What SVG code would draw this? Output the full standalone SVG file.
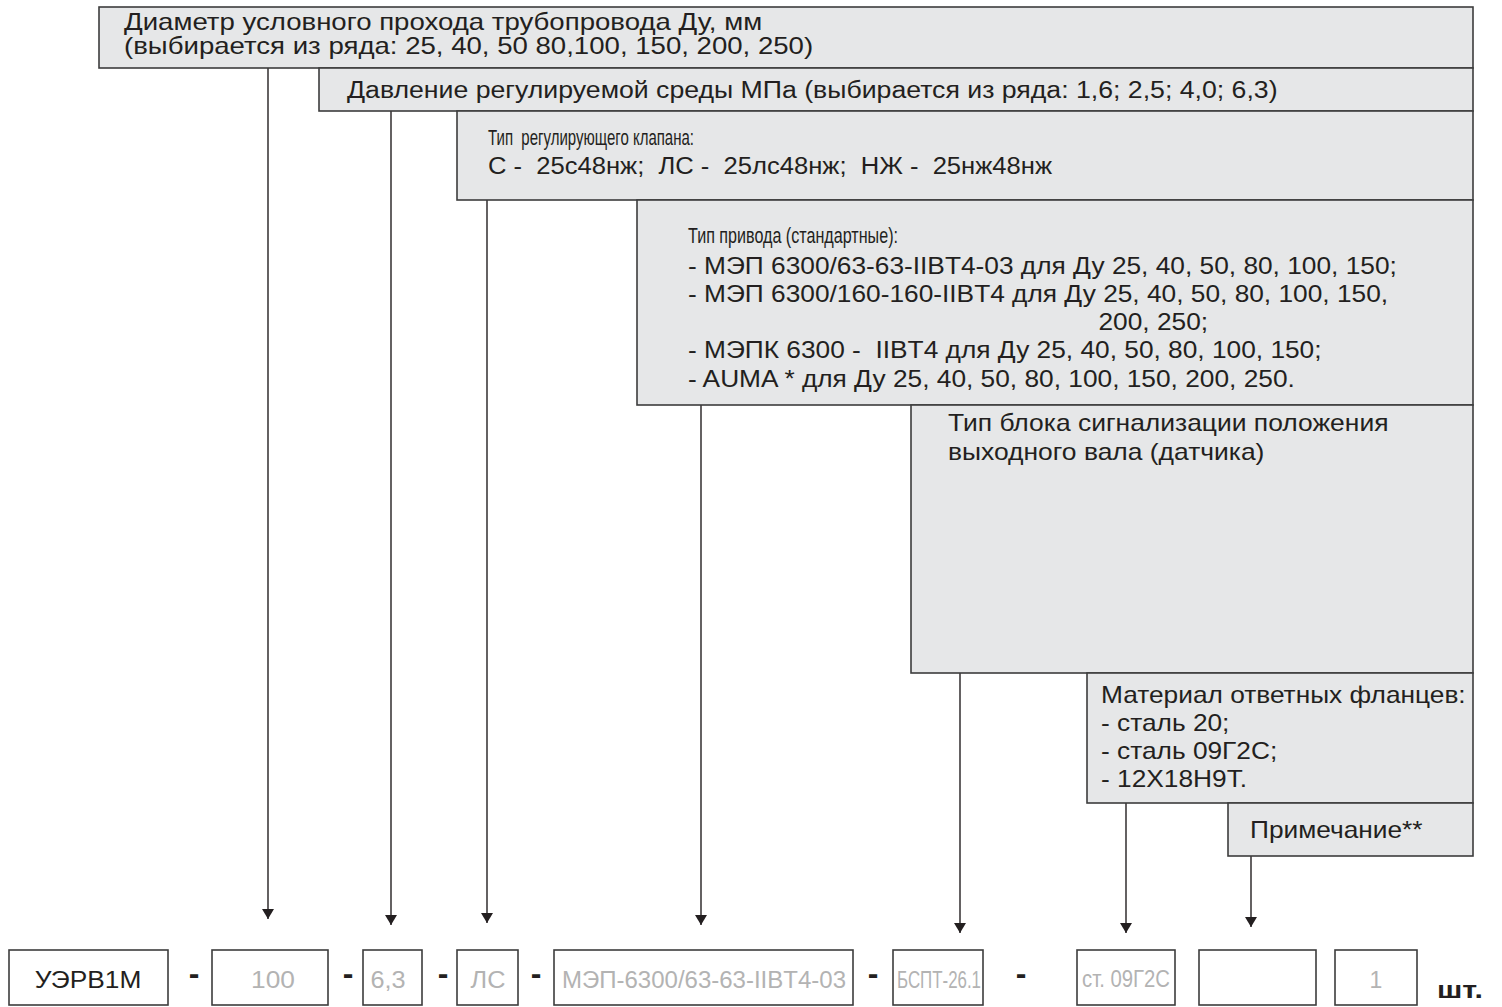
<svg xmlns="http://www.w3.org/2000/svg" width="1502" height="1007" viewBox="0 0 1502 1007">
<style>
.box{fill:#e6e7e8;stroke:#3d3d3d;stroke-width:1.6}
.wb{fill:#fff;stroke:#3d3d3d;stroke-width:1.6}
text{font-family:"Liberation Sans",Arial,Helvetica,sans-serif;font-size:23px;fill:#231f20}
.g{fill:#b3b3b3}
.c{stroke:#231f20;stroke-width:1.4;fill:none}
.d{font-size:32px;font-weight:bold}
.h{font-size:22px}
</style>
<defs>
<marker id="ad" viewBox="0 0 12 10" refX="6" refY="10" markerWidth="12" markerHeight="10" markerUnits="userSpaceOnUse">
<path d="M0,0 L12,0 L6,10 Z" fill="#231f20"/>
</marker>
</defs>
<rect width="1502" height="1007" fill="#fff"/>
<g id="connectors">
<line class="c" x1="268" y1="68" x2="268" y2="919" marker-end="url(#ad)"/>
<line class="c" x1="391" y1="111" x2="391" y2="925" marker-end="url(#ad)"/>
<line class="c" x1="487" y1="200" x2="487" y2="923" marker-end="url(#ad)"/>
<line class="c" x1="701" y1="405" x2="701" y2="925" marker-end="url(#ad)"/>
<line class="c" x1="960" y1="673" x2="960" y2="933" marker-end="url(#ad)"/>
<line class="c" x1="1126" y1="803" x2="1126" y2="933" marker-end="url(#ad)"/>
<line class="c" x1="1251" y1="856" x2="1251" y2="927" marker-end="url(#ad)"/>
</g>
<g id="n1"><rect class="box" x="99" y="7" width="1374" height="61"/>
<g transform="translate(124,0) scale(1.2,1)">
<text x="0" y="30" font-size="22">Диаметр условного прохода трубопровода Ду, мм</text>
<text x="0" y="54" font-size="22">(выбирается из ряда: 25, 40, 50 80,100, 150, 200, 250)</text></g></g>
<g id="n2"><rect class="box" x="319" y="68" width="1154" height="43"/>
<g transform="translate(347,0) scale(1.16,1)">
<text x="0" y="98">Давление регулируемой среды МПа (выбирается из ряда: 1,6; 2,5; 4,0; 6,3)</text></g></g>
<g id="n3"><rect class="box" x="457" y="111" width="1016" height="89"/>
<text class="h" x="488" y="145" textLength="206" lengthAdjust="spacingAndGlyphs" xml:space="preserve">Тип  регулирующего клапана:</text>
<text x="488" y="174" textLength="564" lengthAdjust="spacingAndGlyphs" xml:space="preserve">С -  25с48нж;  ЛС -  25лс48нж;  НЖ -  25нж48нж</text></g>
<g id="n4"><rect class="box" x="637" y="200" width="836" height="205"/>
<text class="h" x="688" y="243" textLength="210" lengthAdjust="spacingAndGlyphs">Тип привода (стандартные):</text>
<g transform="translate(688,0) scale(1.1435,1)">
<text x="0" y="274">- МЭП 6300/63-63-IIBT4-03 для Ду 25, 40, 50, 80, 100, 150;</text>
<text x="0" y="302">- МЭП 6300/160-160-IIBT4 для Ду 25, 40, 50, 80, 100, 150,</text>
<text x="359" y="330">200, 250;</text>
<text x="0" y="358" xml:space="preserve">- МЭПК 6300 -  IIBT4 для Ду 25, 40, 50, 80, 100, 150;</text>
<text x="0" y="387">- AUMA * для Ду 25, 40, 50, 80, 100, 150, 200, 250.</text></g></g>
<g id="n5"><rect class="box" x="911" y="405" width="562" height="268"/>
<g transform="translate(948,0) scale(1.15,1)">
<text x="0" y="431">Тип блока сигнализации положения</text>
<text x="0" y="460">выходного вала (датчика)</text></g></g>
<g id="n6"><rect class="box" x="1087" y="673" width="386" height="130"/>
<g transform="translate(1101,0) scale(1.1435,1)">
<text x="0" y="703">Материал ответных фланцев:</text>
<text x="0" y="731">- сталь 20;</text>
<text x="0" y="759">- сталь 09Г2С;</text>
<text x="0" y="787">- 12Х18Н9Т.</text></g></g>
<g id="n7"><rect class="box" x="1228" y="803" width="245" height="53"/>
<g transform="translate(1250,0) scale(1.1435,1)">
<text x="0" y="838">Примечание**</text></g></g>
<g id="b1"><rect class="wb" x="9" y="950" width="159" height="55"/><text x="88" y="988" text-anchor="middle" transform="translate(88,0) scale(1.1435,1) translate(-88,0)">УЭРВ1М</text></g>
<g id="b2"><rect class="wb" x="212" y="950" width="116" height="55"/><text class="g" x="273" y="988" text-anchor="middle" transform="translate(273,0) scale(1.1435,1) translate(-273,0)">100</text></g>
<g id="b3"><rect class="wb" x="363" y="950" width="59" height="55"/><text class="g" x="388" y="988" text-anchor="middle" transform="translate(388,0) scale(1.1,1) translate(-388,0)">6,3</text></g>
<g id="b4"><rect class="wb" x="457" y="950" width="61" height="55"/><text class="g" x="488" y="988" text-anchor="middle" transform="translate(488,0) scale(1.1,1) translate(-488,0)">ЛС</text></g>
<g id="b5"><rect class="wb" x="554" y="950" width="299" height="55"/><text class="g" x="562" y="988" textLength="284" lengthAdjust="spacingAndGlyphs">МЭП-6300/63-63-IIBT4-03</text></g>
<g id="b6"><rect class="wb" x="893" y="950" width="90" height="55"/><text class="g" x="897" y="988" textLength="84" lengthAdjust="spacingAndGlyphs">БСПТ-26.1</text></g>
<g id="b7"><rect class="wb" x="1077" y="950" width="98" height="55"/><text class="g" x="1082" y="987" font-size="19" textLength="88" lengthAdjust="spacingAndGlyphs">ст. 09Г2С</text></g>
<g id="b8"><rect class="wb" x="1199" y="950" width="117" height="55"/></g>
<g id="b9"><rect class="wb" x="1335" y="950" width="82" height="55"/><text class="g" x="1376" y="988" text-anchor="middle">1</text></g>
<g id="dashes">
<text class="d" x="194" y="984" text-anchor="middle">-</text>
<text class="d" x="348" y="984" text-anchor="middle">-</text>
<text class="d" x="443" y="984" text-anchor="middle">-</text>
<text class="d" x="536" y="984" text-anchor="middle">-</text>
<text class="d" x="873" y="984" text-anchor="middle">-</text>
<text class="d" x="1021" y="984" text-anchor="middle">-</text>
</g>
<text x="1437" y="998" font-size="25" font-weight="bold" textLength="46" lengthAdjust="spacingAndGlyphs">шт.</text>
</svg>
